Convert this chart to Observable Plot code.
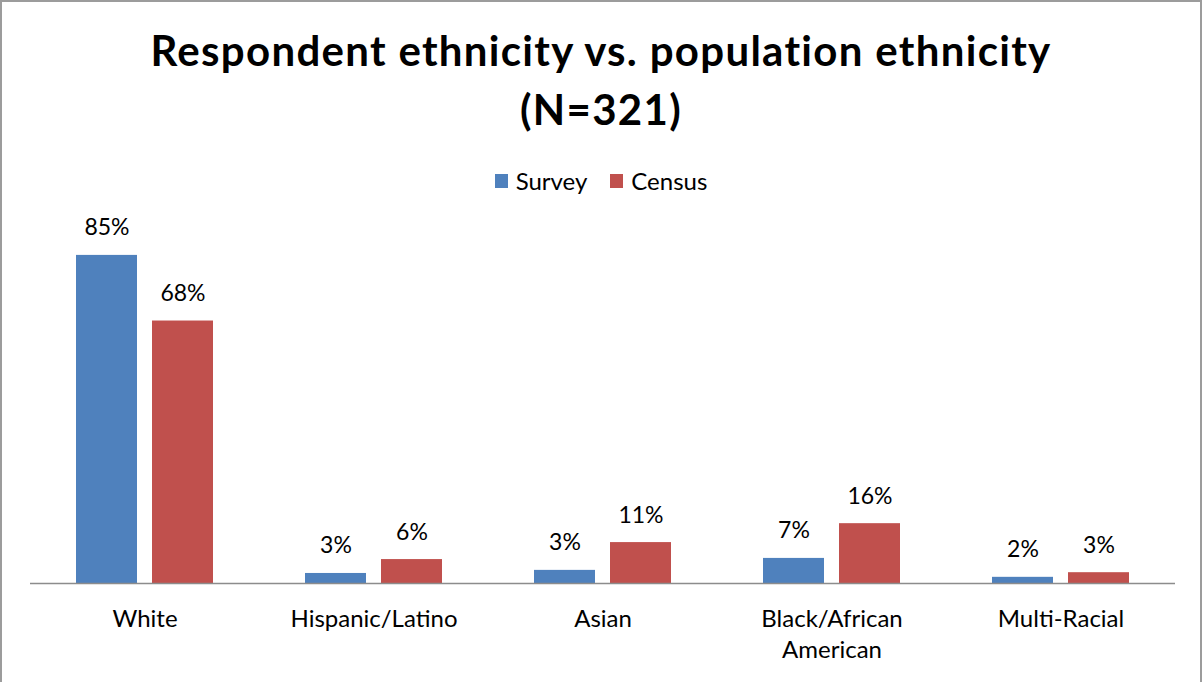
<!DOCTYPE html>
<html>
<head>
<meta charset="utf-8">
<script src="https://cdn.jsdelivr.net/npm/d3@7"></script>
<script src="https://cdn.jsdelivr.net/npm/@observablehq/plot@0.6"></script>
<style>
  html, body { margin: 0; padding: 0; background: #fff; }
  #frame { position: relative; width: 1202px; height: 682px; overflow: hidden; background: #fff; font-family: Lato, "Open Sans", sans-serif; color: #000; }
  #border { position: absolute; left: 0; top: 0; width: 1198px; height: 700px; border: 2px solid #9c9c9c; pointer-events: none; }
  #title { position: absolute; left: 0; top: 21px; width: 1202px; text-align: center; font-weight: 700; font-size: 42px; line-height: 59px; letter-spacing: 1.3px; }
  #legend { position: absolute; left: 0; top: 166px; width: 1202px; display: flex; justify-content: center; gap: 23px; font-size: 24px; line-height: 30px; }
  #legend .item { display: flex; align-items: center; gap: 8px; }
  #legend .sw { width: 13px; height: 14px; display: inline-block; }
  #chart { position: absolute; left: 0; top: 190px; }
</style>
</head>
<body>
<div id="frame">
  <div id="title">Respondent ethnicity vs. population ethnicity<br>(N=321)</div>
  <div id="legend"></div>
  <div id="chart"></div>
  <div id="border"></div>
</div>
<script>
const categories = ["White", "Hispanic/Latino", "Asian", "Black/African\nAmerican", "Multi-Racial"];
const series = ["Survey", "Census"];
const surveyValues = [85, 2.6, 3.4, 6.5, 1.6];
const censusValues = [68, 6.2, 10.6, 15.5, 2.8];
const surveyLabels = ["85%", "3%", "3%", "7%", "2%"];
const censusLabels = ["68%", "6%", "11%", "16%", "3%"];
const colors = ["#4F81BD", "#C0504D"];

const data = categories.flatMap((c, i) => [
  {category: c, series: "Survey", value: surveyValues[i], label: surveyLabels[i]},
  {category: c, series: "Census", value: censusValues[i], label: censusLabels[i]}
]);

const legend = document.getElementById("legend");
series.forEach((s, i) => {
  const item = document.createElement("div");
  item.className = "item";
  const sw = document.createElement("span");
  sw.className = "sw";
  sw.style.background = colors[i];
  const t = document.createElement("span");
  t.textContent = s;
  item.appendChild(sw);
  item.appendChild(t);
  legend.appendChild(item);
});

const chart = Plot.plot({
  width: 1202,
  height: 492,
  marginTop: 7,
  marginBottom: 99,
  marginLeft: 30,
  marginRight: 27,
  style: {fontFamily: "Lato, 'Open Sans', sans-serif", fontSize: "23px", color: "#000", background: "transparent"},
  fx: {domain: categories, padding: 0, label: null},
  x: {domain: series, paddingInner: 0.197, paddingOuter: 0.605, axis: null},
  y: {domain: [0, 100], axis: null},
  color: {domain: series, range: colors},
  marks: [
    Plot.barY(data, {fx: "category", x: "series", y: "value", fill: "series"}),
    Plot.ruleY([0], {stroke: "#8c8c8c", strokeWidth: 1.5}),
    Plot.text(data, {fx: "category", x: "series", y: "value", text: "label", dy: -20, lineAnchor: "bottom", fontSize: 23, fill: "#000"}),
    Plot.axisFx({anchor: "bottom", tickSize: 0, tickPadding: 21, fontSize: 24, lineHeight: 1.3, label: null, fill: "#000"})
  ]
});
document.getElementById("chart").appendChild(chart);
</script>
</body>
</html>
